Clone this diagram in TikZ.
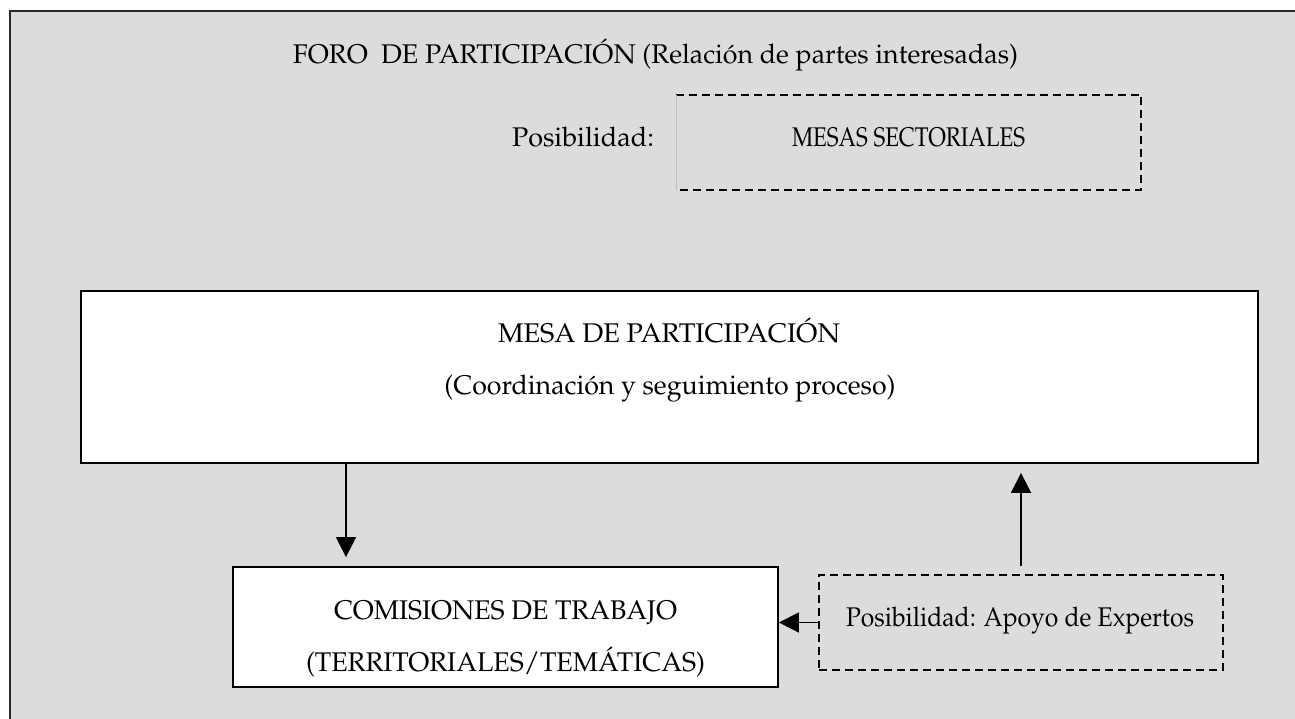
\documentclass[tikz,border=0pt]{standalone}
\usepackage[T1]{fontenc}
\usepackage{mathpazo}
\usepackage{graphicx}
\usetikzlibrary{arrows.meta,calc}
\definecolor{bggray}{RGB}{220,220,220}
\definecolor{edgegray}{RGB}{40,40,40}
\newcommand\fitw[2]{\resizebox{#1}{\height}{#2}}
\tikzset{
  txt/.style={font=\fontsize{27}{31}\selectfont, inner sep=0pt, anchor=base},
  solidbox/.style={draw=black, line width=1.8pt, fill=white, inner sep=0pt},
  dashbox/.style={draw=black, line width=1.5pt, dash pattern=on 8pt off 5pt, inner sep=0pt},
  arr/.style={line width=1.6pt, -{Triangle[length=20pt,width=20pt]}},
}
\begin{document}
\begin{tikzpicture}[x=1pt,y=-1pt]
\useasboundingbox (0,0) rectangle (1295,718);
\fill[white] (0,0) rectangle (1295,718);
\begin{scope}
\clip (0,0) rectangle (1295,718);
\draw[edgegray, line width=2pt, fill=bggray] (10,11) rectangle (1320,740);
\end{scope}

\node[txt] (title) at (655.5,63) {\fitw{725pt}{FORO\ \ DE PARTICIPACI\'ON (Relaci\'on de partes interesadas)}};
\node[txt] (pos1) at (583,146) {\fitw{142pt}{Posibilidad:}};

% Mesas sectoriales
\node[minimum width=465pt, minimum height=95pt, inner sep=0pt] (ms) at (908.5,142.5) {};
\draw[dashbox] (ms.north west) -- (ms.north east) -- (ms.south east) -- (ms.south west);
\draw[black!25, line width=0.6pt] (ms.south west) -- (ms.north west);
\node[txt] (mstxt) at (908.5,146) {\fitw{233pt}{MESAS SECTORIALES}};

% Mesa de participacion
\node[solidbox, minimum width=1177pt, minimum height=172pt] (mesa) at (669.5,377) {};
\node[txt] (m1) at (669,342) {\fitw{342pt}{MESA DE PARTICIPACI\'ON}};
\node[txt] (m2) at (670,394) {\fitw{451pt}{(Coordinaci\'on y seguimiento proceso)}};

% Comisiones
\node[solidbox, minimum width=545pt, minimum height=120pt] (com) at (505.5,627) {};
\node[txt] (c1) at (505.5,619) {\fitw{343pt}{COMISIONES DE TRABAJO}};
\node[txt] (c2) at (505.5,671) {\fitw{399pt}{(TERRITORIALES/TEM\'ATICAS)}};

% Expertos
\node[dashbox, minimum width=404pt, minimum height=95pt] (exp) at (1021,622.5) {};
\node[txt] (etxt) at (1020,626) {\fitw{348pt}{Posibilidad: Apoyo de Expertos}};

% Arrows
\coordinate (dx) at (346,500);
\draw[arr, shorten >=9pt] (mesa.south -| dx) -- (com.north -| dx);
\draw[arr, shorten <=8pt, shorten >=9pt] (exp.north) -- (exp.north |- mesa.south);
\draw[arr] (exp.west) -- (exp.west -| com.east);
\end{tikzpicture}
\end{document}
